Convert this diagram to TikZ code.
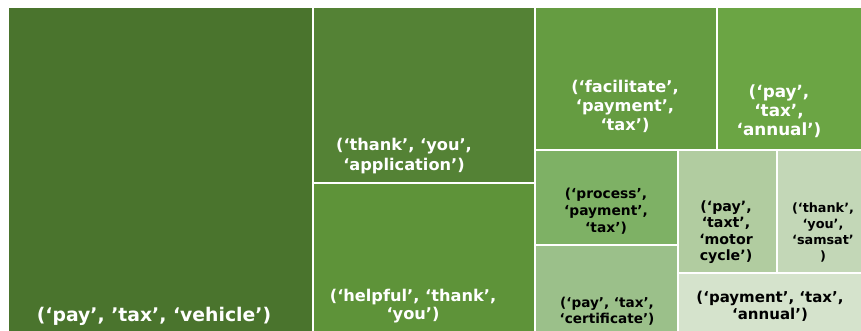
\documentclass[tikz,border=0pt]{standalone}
\usepackage{fontspec}
\setmainfont{DejaVu Sans}
\definecolor{cA}{RGB}{74,116,45}
\definecolor{cB}{RGB}{84,130,53}
\definecolor{cC}{RGB}{94,147,57}
\definecolor{cD}{RGB}{101,156,65}
\definecolor{cE}{RGB}{107,165,68}
\definecolor{cF}{RGB}{126,177,101}
\definecolor{cG}{RGB}{155,192,138}
\definecolor{cH}{RGB}{177,204,160}
\definecolor{cI}{RGB}{195,215,183}
\definecolor{cJ}{RGB}{213,227,204}
\tikzset{
  tile/.style={draw=white, line width=1.3pt},
  wlab/.style={text=white, align=center, inner sep=0pt, font=\bfseries},
  blab/.style={text=black, align=center, inner sep=0pt, font=\bfseries},
}
\begin{document}
\begin{tikzpicture}[x=1pt,y=-1pt]
\useasboundingbox (0,0) rectangle (861,331);
\fill[white] (0,0) rectangle (861,331);
% tiles
\path[tile, fill=cA] (8,7) rectangle (313,332);
\path[tile, fill=cB] (313,7) rectangle (535,183);
\path[tile, fill=cC] (313,183) rectangle (535,332);
\path[tile, fill=cD] (535,7) rectangle (717,150);
\path[tile, fill=cE] (717,7) rectangle (862,150);
\path[tile, fill=cF] (535,150) rectangle (678,245);
\path[tile, fill=cG] (535,245) rectangle (678,332);
\path[tile, fill=cH] (678,150) rectangle (777,273);
\path[tile, fill=cI] (777,150) rectangle (862,273);
\path[tile, fill=cJ] (678,273) rectangle (862,332);
% labels
\node[wlab, font=\bfseries\fontsize{18.8}{21}\selectfont] (l1) at (154,316) {(‘pay’, ’tax’, ‘vehicle’)};
\node[wlab, font=\bfseries\fontsize{16.2}{20}\selectfont] (l2) at (404,156) {(‘thank’, ‘you’,\\ ‘application’)};
\node[wlab, font=\bfseries\fontsize{16.2}{17.5}\selectfont] (l3) at (413,306) {(‘helpful’, ‘thank’,\\ ‘you’)};
\node[wlab, font=\bfseries\fontsize{16.2}{19}\selectfont] (l4) at (625,106) {(‘facilitate’,\\ ‘payment’,\\ ‘tax’)};
\node[wlab, font=\bfseries\fontsize{16.8}{19}\selectfont] (l5) at (779,111) {(‘pay’,\\ ‘tax’,\\ ‘annual’)};
\node[blab, font=\bfseries\fontsize{13.8}{17}\selectfont] (l6) at (606,211) {(‘process’,\\ ‘payment’,\\ ‘tax’)};
\node[blab, font=\bfseries\fontsize{13.6}{16}\selectfont] (l7) at (607,311) {(‘pay’, ‘tax’,\\ ‘certificate’)};
\node[blab, font=\bfseries\fontsize{14.2}{16.5}\selectfont] (l8) at (726,232) {(‘pay’,\\ ‘taxt’,\\ ‘motor\\ cycle’)};
\node[blab, font=\bfseries\fontsize{12.8}{16}\selectfont] (l9) at (823,232) {(‘thank’,\\ ‘you’,\\ ‘samsat’\\ )};
\node[blab, font=\bfseries\fontsize{15}{17}\selectfont] (l10) at (770,306) {(‘payment’, ‘tax’,\\ ‘annual’)};
\end{tikzpicture}
\end{document}
